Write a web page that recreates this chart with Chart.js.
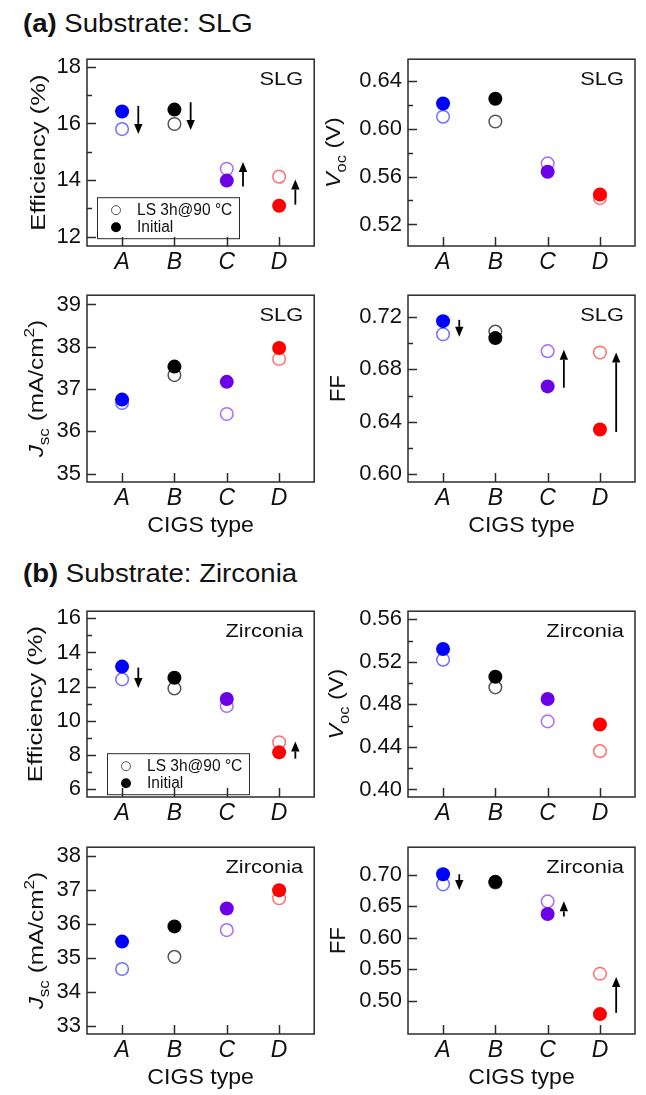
<!DOCTYPE html>
<html>
<head>
<meta charset="utf-8">
<script src="https://cdn.jsdelivr.net/npm/chart.js@4.4.1/dist/chart.umd.min.js"></script>
<style>
  body { margin: 0; background: #fff; width: 646px; height: 1095px; position: relative; overflow: hidden;
         font-family: "Liberation Sans", Arial, sans-serif; color: #111; }
  canvas { position: absolute; }
  .head { position: absolute; left: 23px; font-size: 26px; line-height: 26px; white-space: nowrap;
          transform: scaleX(1.06); transform-origin: left top; }
</style>
</head>
<body>
<div class="head" style="top:10px"><b>(a)</b> Substrate: SLG</div>
<div class="head" style="top:560px"><b>(b)</b> Substrate: Zirconia</div>

<canvas id="p1" width="322" height="236" style="left:0;top:40px"></canvas>
<canvas id="p2" width="324" height="236" style="left:322px;top:40px"></canvas>
<canvas id="p3" width="322" height="272" style="left:0;top:276px"></canvas>
<canvas id="p4" width="324" height="272" style="left:322px;top:276px"></canvas>
<canvas id="p5" width="322" height="236" style="left:0;top:592px"></canvas>
<canvas id="p6" width="324" height="236" style="left:322px;top:592px"></canvas>
<canvas id="p7" width="322" height="267" style="left:0;top:828px"></canvas>
<canvas id="p8" width="324" height="267" style="left:322px;top:828px"></canvas>

<script>
'use strict'
// 데이터
const cigsTypes = ['A', 'B', 'C', 'D'];

// (a) SLG
const slgEffInit = [16.42, 16.49, 13.98, 13.09];
const slgEffLS   = [15.80, 15.98, 14.40, 14.12];
const slgVocInit = [0.621, 0.625, 0.564, 0.545];
const slgVocLS   = [0.610, 0.606, 0.571, 0.542];
const slgJscInit = [36.75, 37.53, 37.17, 37.97];
const slgJscLS   = [36.67, 37.33, 36.41, 37.71];
const slgFFInit  = [0.717, 0.704, 0.667, 0.634];
const slgFFLS    = [0.707, 0.709, 0.694, 0.693];

// (b) Zirconia
const zrEffInit = [13.17, 12.52, 11.27, 8.14];
const zrEffLS   = [12.42, 11.89, 10.86, 8.73];
const zrVocInit = [0.532, 0.506, 0.485, 0.461];
const zrVocLS   = [0.522, 0.496, 0.464, 0.436];
const zrJscInit = [35.48, 35.93, 36.46, 37.00];
const zrJscLS   = [34.67, 35.03, 35.82, 36.76];
const zrFFInit  = [0.701, 0.689, 0.638, 0.479];
const zrFFLS    = [0.685, 0.688, 0.658, 0.543];

// 화살표 [카테고리, 시작값, 끝값]
const slgEffArrows = [[0, 16.62, 15.63], [1, 16.75, 15.77], [2, 13.77, 14.64], [3, 13.13, 14.02]];
const slgFFArrows  = [[0, 0.718, 0.705], [2, 0.666, 0.695], [3, 0.632, 0.693]];
const zrEffArrows  = [[0, 13.11, 11.91], [3, 7.77, 8.78]];
const zrFFArrows   = [[0, 0.701, 0.676], [2, 0.634, 0.658], [3, 0.481, 0.538]];

// 눈금
const slgEffTicks = [12, 14, 16, 18];
const slgVocTicks = [0.52, 0.56, 0.60, 0.64];
const slgJscTicks = [35, 36, 37, 38, 39];
const slgFFTicks  = [0.60, 0.64, 0.68, 0.72];
const zrEffTicks  = [6, 8, 10, 12, 14, 16];
const zrVocTicks  = [0.40, 0.44, 0.48, 0.52, 0.56];
const zrJscTicks  = [33, 34, 35, 36, 37, 38];
const zrFFTicks   = [0.50, 0.55, 0.60, 0.65, 0.70];

const FONT = '"Liberation Sans", Arial, sans-serif';
const INK = '#111';
const FRAME = '#2b2b2b';
const fillColors = ['#0000ff', '#000000', '#6c00e6', '#ff0000'];
const openColors = ['#6f6fff', '#555555', '#a46cff', '#ff6f6f'];

const T_EFF = [{ t: 'Efficiency (%)' }];
const T_VOC = [{ t: 'V', it: true }, { t: 'oc', sub: true }, { t: ' (V)' }];
const T_JSC = [{ t: 'J', it: true }, { t: 'sc', sub: true }, { t: ' (mA/cm' }, { t: '2', sup: true }, { t: ')' }];
const T_FF = [{ t: 'FF' }];

function toPoints(arr) {
  return arr.map((v, i) => ({ x: i, y: v }));
}

// 늘린 텍스트 그리기
function drawText(ctx, str, x, y, size, sx, align, style) {
  ctx.save();
  ctx.font = (style || '') + ' ' + size + 'px ' + FONT;
  ctx.fillStyle = INK;
  ctx.textBaseline = 'middle';
  const w = ctx.measureText(str).width * sx;
  let x0 = x;
  if (align === 'center') x0 = x - w / 2;
  if (align === 'right') x0 = x - w;
  ctx.translate(x0, y);
  ctx.scale(sx, 1);
  ctx.fillText(str, 0, 0);
  ctx.restore();
}

// 세로 축 제목 (아래첨자/위첨자)
function drawRich(ctx, segs, cx, cy, size, sx) {
  ctx.save();
  ctx.translate(cx, cy);
  ctx.rotate(-Math.PI / 2);
  ctx.scale(sx, 1);
  const parts = segs.map(s => {
    const fs = (s.sub || s.sup) ? size * 0.7 : size;
    const font = (s.it ? 'italic ' : '') + fs + 'px ' + FONT;
    ctx.font = font;
    return { t: s.t, font: font, w: ctx.measureText(s.t).width, dy: s.sub ? size * 0.3 : (s.sup ? -size * 0.42 : 0) };
  });
  const total = parts.reduce((a, p) => a + p.w, 0);
  let x = -total / 2;
  ctx.fillStyle = INK;
  ctx.textBaseline = 'alphabetic';
  parts.forEach(p => {
    ctx.font = p.font;
    ctx.fillText(p.t, x, p.dy + size * 0.36);
    x += p.w;
  });
  ctx.restore();
}

function line(ctx, x1, y1, x2, y2) {
  ctx.beginPath();
  ctx.moveTo(x1, y1);
  ctx.lineTo(x2, y2);
  ctx.stroke();
}

const decorPlugin = {
  id: 'decor',
  afterDraw(chart, args, o) {
    const { ctx, chartArea: a, scales: { x, y } } = chart;
    ctx.save();
    // 테두리
    ctx.strokeStyle = FRAME;
    ctx.lineWidth = 1.5;
    ctx.strokeRect(a.left, a.top, a.right - a.left, a.bottom - a.top);
    // 안쪽 눈금
    x.ticks.forEach(t => {
      const px = Math.round(x.getPixelForValue(t.value)) + 0.5;
      line(ctx, px, a.bottom, px, a.bottom - 9);
    });
    const vals = y.ticks.map(t => t.value);
    vals.forEach(v => {
      const py = Math.round(y.getPixelForValue(v)) + 0.5;
      line(ctx, a.left, py, a.left + 9, py);
    });
    if (o.minor) {
      for (let i = 0; i < vals.length - 1; i++) {
        const py = Math.round(y.getPixelForValue((vals[i] + vals[i + 1]) / 2)) + 0.5;
        line(ctx, a.left, py, a.left + 5, py);
      }
    }
    // 화살표
    ctx.strokeStyle = '#000';
    ctx.fillStyle = '#000';
    ctx.lineWidth = 1.8;
    (o.arrows || []).forEach(ar => {
      const px = x.getPixelForValue(ar[0] + 0.31);
      const y1 = y.getPixelForValue(ar[1]);
      const y2 = y.getPixelForValue(ar[2]);
      const dir = y2 > y1 ? 1 : -1;
      const head = 10;
      line(ctx, px, y1, px, y2 - dir * head);
      ctx.beginPath();
      ctx.moveTo(px, y2);
      ctx.lineTo(px - 4.2, y2 - dir * head);
      ctx.lineTo(px + 4.2, y2 - dir * head);
      ctx.closePath();
      ctx.fill();
    });
    // 기판 라벨
    drawText(ctx, o.inset, a.right - 11, a.top + 21, 19, 1.15, 'right');
    // 범례
    if (o.legend) {
      const lx = a.left + o.legend.x, ly = a.top + o.legend.y;
      ctx.strokeStyle = FRAME;
      ctx.lineWidth = 1;
      ctx.strokeRect(lx + 0.5, ly + 0.5, 142, 41);
      ctx.beginPath();
      ctx.arc(lx + 19, ly + 13, 4.5, 0, Math.PI * 2);
      ctx.strokeStyle = '#555';
      ctx.stroke();
      ctx.beginPath();
      ctx.arc(lx + 19, ly + 30, 5, 0, Math.PI * 2);
      ctx.fillStyle = '#000';
      ctx.fill();
      drawText(ctx, 'LS 3h@90 °C', lx + 40, ly + 13, 16, 0.97, 'left');
      drawText(ctx, 'Initial', lx + 40, ly + 30, 16, 0.97, 'left');
    }
    // 축 제목
    drawRich(ctx, o.title, a.left + o.titleX, (a.top + a.bottom) / 2, o.titleSize, o.titleSx);
    if (o.xTitle) {
      drawText(ctx, 'CIGS type', (a.left + a.right) / 2, a.bottom + 44, 22, 1.05, 'center');
    }
    ctx.restore();
  }
};

function makePanel(id, c) {
  return new Chart(document.getElementById(id), {
    type: 'scatter',
    data: {
      datasets: [
        {
          label: 'Initial',
          data: toPoints(c.init),
          pointRadius: 7,
          pointBorderWidth: 0,
          pointBackgroundColor: fillColors,
          pointBorderColor: fillColors
        },
        {
          label: 'LS 3h@90 °C',
          data: toPoints(c.ls),
          pointRadius: 6.3,
          pointBorderWidth: 1.5,
          pointBackgroundColor: 'rgba(255,255,255,0)',
          pointBorderColor: openColors
        }
      ]
    },
    options: {
      responsive: false,
      animation: false,
      events: [],
      layout: { padding: { top: 8, right: c.right, left: 0, bottom: 0 } },
      plugins: {
        legend: { display: false },
        tooltip: { enabled: false },
        decor: c.decor
      },
      scales: {
        x: {
          type: 'linear',
          min: -0.67,
          max: 3.67,
          afterBuildTicks: s => { s.ticks = cigsTypes.map((n, i) => ({ value: i })); },
          afterFit: s => { s.height = c.xh; },
          ticks: {
            callback: v => cigsTypes[v],
            font: { family: FONT, size: 23, style: 'italic' },
            color: INK,
            padding: 3,
            maxRotation: 0,
            autoSkip: false
          },
          grid: { display: false, drawTicks: false },
          border: { display: false }
        },
        y: {
          type: 'linear',
          min: c.min,
          max: c.max,
          afterBuildTicks: s => { s.ticks = c.ticks.map(v => ({ value: v })); },
          afterFit: s => { s.width = c.yw; },
          ticks: {
            callback: v => v.toFixed(c.dec),
            font: { family: FONT, size: 22 },
            color: INK,
            padding: 6,
            autoSkip: false
          },
          grid: { display: false, drawTicks: false },
          border: { display: false }
        }
      }
    },
    plugins: [decorPlugin]
  });
}

const L = { yw: 87, right: 7 };
const R = { yw: 86, right: 11 };

makePanel('p1', { ...L, xh: 30, init: slgEffInit, ls: slgEffLS, min: 11.67, max: 18.27, ticks: slgEffTicks, dec: 0,
  decor: { title: T_EFF, titleX: -50, titleSize: 21, titleSx: 1.22, inset: 'SLG', minor: true, arrows: slgEffArrows, legend: { x: 10, y: 138 } } });
makePanel('p2', { ...R, xh: 30, init: slgVocInit, ls: slgVocLS, min: 0.502, max: 0.658, ticks: slgVocTicks, dec: 2,
  decor: { title: T_VOC, titleX: -76, titleSize: 21, titleSx: 1.12, inset: 'SLG', minor: true } });
makePanel('p3', { ...L, xh: 66, init: slgJscInit, ls: slgJscLS, min: 34.8, max: 39.22, ticks: slgJscTicks, dec: 0,
  decor: { title: T_JSC, titleX: -52, titleSize: 21, titleSx: 1.16, inset: 'SLG', minor: false, xTitle: true } });
makePanel('p4', { ...R, xh: 66, init: slgFFInit, ls: slgFFLS, min: 0.5937, max: 0.7369, ticks: slgFFTicks, dec: 2,
  decor: { title: T_FF, titleX: -71, titleSize: 22, titleSx: 1.0, inset: 'SLG', minor: true, arrows: slgFFArrows, xTitle: true } });
makePanel('p5', { ...L, xh: 31, init: zrEffInit, ls: zrEffLS, min: 5.52, max: 16.42, ticks: zrEffTicks, dec: 0,
  decor: { title: T_EFF, titleX: -53, titleSize: 21, titleSx: 1.22, inset: 'Zirconia', minor: true, arrows: zrEffArrows, legend: { x: 20, y: 142 } } });
makePanel('p6', { ...R, xh: 31, init: zrVocInit, ls: zrVocLS, min: 0.3929, max: 0.5676, ticks: zrVocTicks, dec: 2,
  decor: { title: T_VOC, titleX: -73, titleSize: 21, titleSx: 1.12, inset: 'Zirconia', minor: true } });
makePanel('p7', { ...L, xh: 61, init: zrJscInit, ls: zrJscLS, min: 32.75, max: 38.27, ticks: zrJscTicks, dec: 0,
  decor: { title: T_JSC, titleX: -52, titleSize: 21, titleSx: 1.16, inset: 'Zirconia', minor: false, xTitle: true } });
makePanel('p8', { ...R, xh: 61, init: zrFFInit, ls: zrFFLS, min: 0.4474, max: 0.744, ticks: zrFFTicks, dec: 2,
  decor: { title: T_FF, titleX: -71, titleSize: 22, titleSx: 1.0, inset: 'Zirconia', minor: false, arrows: zrFFArrows, xTitle: true } });
</script>
</body>
</html>
